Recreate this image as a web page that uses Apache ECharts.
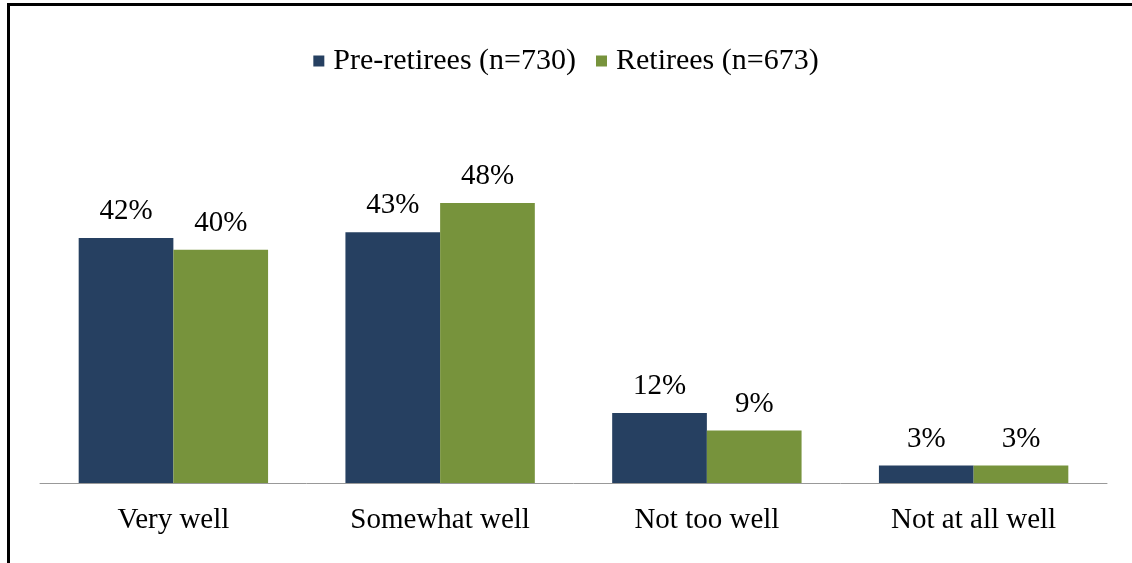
<!DOCTYPE html>
<html><head><meta charset="utf-8">
<script src="https://cdn.jsdelivr.net/npm/echarts@6/dist/echarts.min.js"></script>
<style>html,body{margin:0;padding:0;background:#fff;}#c{width:1132px;height:563px;}
#frame{position:absolute;left:7px;top:3px;width:1140px;height:570px;border-left:3px solid #000;border-top:3px solid #000;box-sizing:border-box;pointer-events:none;}</style>
</head><body><div id="c"></div><div id="frame"></div>
<script>
const categories = ["Very well", "Somewhat well", "Not too well", "Not at all well"];
const seriesNames = ["Pre-retirees (n=730)", "Retirees (n=673)"];
const preRetirees = [42, 43, 12, 3];
const retirees = [40, 48, 9, 3];
const colors = ["#264061", "#77933C"];
const font = "'Liberation Serif', 'Times New Roman', serif";
const chart = echarts.init(document.getElementById('c'));
const lbl = {show: true, position: 'top', distance: 12, formatter: '{c}%', fontFamily: font, fontSize: 29, color: '#000'};
chart.setOption({
  animation: false,
  legend: {top: 41, left: 'center', itemWidth: 11, itemHeight: 11, itemGap: 20,
    textStyle: {fontFamily: font, fontSize: 30, color: '#000', padding: [0, 0, 0, 4]}, icon: 'rect', data: seriesNames},
  grid: {left: 40, right: 25, top: 133, bottom: 80},
  xAxis: {type: 'category', data: categories,
    axisLine: {lineStyle: {color: '#999', width: 1}}, axisTick: {show: false},
    axisLabel: {fontFamily: font, fontSize: 29, color: '#000', margin: 23}},
  yAxis: {type: 'value', min: 0, max: 60, show: false, splitLine: {show: false}},
  series: [
    {name: seriesNames[0], type: 'bar', data: preRetirees, itemStyle: {color: colors[0]}, barGap: '0%', barCategoryGap: '29%', label: lbl},
    {name: seriesNames[1], type: 'bar', data: retirees, itemStyle: {color: colors[1]}, label: lbl}
  ]
});
</script></body></html>
